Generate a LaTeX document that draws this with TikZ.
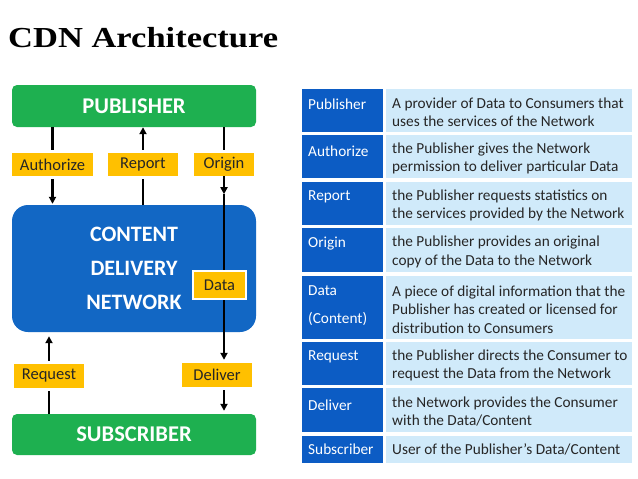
\documentclass[tikz,border=0pt]{standalone}
\usepackage{fontspec}
\setmainfont{Carlito}
\newfontfamily\titlefont{Liberation Serif}
\usetikzlibrary{arrows.meta}
\definecolor{pubgreen}{RGB}{30,176,80}
\definecolor{cdnblue}{RGB}{18,103,196}
\definecolor{labyellow}{RGB}{255,192,0}
\definecolor{tabdark}{RGB}{12,92,196}
\definecolor{tablight}{RGB}{208,234,250}
\begin{document}
\begin{tikzpicture}[x=1pt,y=-1pt,
  bigbox/.style={rounded corners=5pt, minimum width=244pt, text=white, inner sep=0pt,
    font=\bfseries\fontsize{22.5}{26}\selectfont},
  lab/.style={fill=labyellow, minimum height=23pt, inner sep=0pt, text=black!85,
    font=\fontsize{16.5}{18}\selectfont},
  flow/.style={line width=2.2pt, black},
  flowarrow/.style={flow, -{Triangle[length=7pt,width=7pt]}},
  lcell/.style={fill=tabdark, minimum width=81pt, inner sep=0pt, anchor=north west},
  rcell/.style={fill=tablight, minimum width=246pt, inner sep=0pt, anchor=north west},
  ltxt/.style={anchor=west, inner sep=0pt, text=white, font=\fontsize{15.3}{18}\selectfont},
  rtxt/.style={anchor=west, inner sep=0pt, align=left, text=black!85, font=\fontsize{15.3}{18.5}\selectfont}
]
\useasboundingbox (0,0) rectangle (638,479);
\fill[white] (0,0) rectangle (638,479);

% title
\node[anchor=base west, inner sep=0pt, font=\titlefont\bfseries\fontsize{29}{30}\selectfont] (title) at (8,47) {\scalebox{1.19}[1]{CDN Architecture}};

% diagram boxes
\node[bigbox, fill=pubgreen, minimum height=42pt] (pub) at (134,106) {PUBLISHER};
\node[bigbox, fill=cdnblue, rounded corners=16pt, minimum height=127pt, align=center,
  font=\bfseries\fontsize{22}{34}\selectfont] (cdn) at (134,268.5) {CONTENT\\DELIVERY\\NETWORK};
\node[bigbox, fill=pubgreen, minimum height=41pt] (sub) at (134,434.5) {SUBSCRIBER};

% labels
\node[lab, minimum width=81pt] (auth) at (52.5,164.5) {Authorize};
\node[lab, minimum width=70pt] (rep) at (143,164.5) {Report};
\node[lab, minimum width=60pt] (orig) at (224,164.5) {Origin};
\node[lab, minimum width=70pt, minimum height=24pt] (req) at (49,376) {Request};
\node[lab, minimum width=70pt, minimum height=24pt] (del) at (217,375) {Deliver};

% connectors
\draw[flow] (pub.south -| auth.north) -- ([yshift=3pt]auth.north);
\draw[flowarrow, shorten >=1pt] ([yshift=-3pt]auth.south) -- (cdn.north -| auth.south);
\draw[flowarrow] ([yshift=3pt]rep.north) -- (pub.south -| rep.north);
\draw[flow] (cdn.north -| rep.south) -- ([yshift=-3pt]rep.south);
\draw[flow] (pub.south -| orig.north) -- ([yshift=3pt]orig.north);
\draw[flowarrow] (orig.south) -- ++(0,18) coordinate (o1);
\coordinate (dtop) at (del.north -| orig.south);
\coordinate (dbot) at (del.south -| orig.south);
\draw[flowarrow] (o1) -- ([yshift=3pt]dtop);
\draw[flowarrow, shorten >=4pt] ([yshift=3pt]req.north) -- (cdn.south -| req.north);
\draw[flow] ([yshift=-3pt]req.south) -- (sub.north -| req.south);
\draw[flowarrow, shorten >=3pt] ([yshift=-3pt]dbot) -- (sub.north -| dbot);

\node[lab, draw=white, line width=1.5pt, minimum width=53pt, minimum height=28pt] (data) at (219.5,285) {Data};

% table
\node[lcell, minimum height=43pt] (l1) at (302,89) {};
\node[rcell, minimum height=43pt] (r1) at (386,89) {};
\node[lcell, minimum height=43pt] (l2) at (302,135) {};
\node[rcell, minimum height=43pt] (r2) at (386,135) {};
\node[lcell, minimum height=43pt] (l3) at (302,182) {};
\node[rcell, minimum height=43pt] (r3) at (386,182) {};
\node[lcell, minimum height=44pt] (l4) at (302,228) {};
\node[rcell, minimum height=44pt] (r4) at (386,228) {};
\node[lcell, minimum height=63pt] (l5) at (302,276) {};
\node[rcell, minimum height=63pt] (r5) at (386,276) {};
\node[lcell, minimum height=43pt] (l6) at (302,342) {};
\node[rcell, minimum height=43pt] (r6) at (386,342) {};
\node[lcell, minimum height=44pt] (l7) at (302,388) {};
\node[rcell, minimum height=44pt] (r7) at (386,388) {};
\node[lcell, minimum height=27pt] (l8) at (302,436) {};
\node[rcell, minimum height=27pt] (r8) at (386,436) {};

\node[ltxt] (t1) at ([xshift=6pt,yshift=-15pt]l1.north west) {Publisher};
\node[ltxt] (t2) at ([xshift=6pt,yshift=-16pt]l2.north west) {Authorize};
\node[ltxt] (t3) at ([xshift=6pt,yshift=-15pt]l3.north west) {Report};
\node[ltxt] (t4) at ([xshift=6pt,yshift=-16pt]l4.north west) {Origin};
\node[ltxt, align=left, font=\fontsize{15.3}{28}\selectfont] (t5) at ([xshift=6pt,yshift=-30pt]l5.north west) {Data\\(Content)};
\node[ltxt] (t6) at ([xshift=6pt,yshift=-15pt]l6.north west) {Request};
\node[ltxt] (t7) at ([xshift=6pt,yshift=-17pt]l7.north west) {Deliver};
\node[ltxt] (t8) at ([xshift=6pt]l8.west) {Subscriber};

\node[rtxt] (d1) at ([xshift=6pt,yshift=-1.5pt]r1.west) {A provider of Data to Consumers that\\uses the services of the Network};
\node[rtxt] (d2) at ([xshift=6pt,yshift=-1.5pt]r2.west) {the Publisher gives the Network\\permission to deliver particular Data};
\node[rtxt] (d3) at ([xshift=6pt,yshift=-1.5pt]r3.west) {the Publisher requests statistics on\\the services provided by the Network};
\node[rtxt] (d4) at ([xshift=6pt,yshift=-1.5pt]r4.west) {the Publisher provides an original\\copy of the Data to the Network};
\node[rtxt] (d5) at ([xshift=6pt,yshift=-2pt]r5.west) {A piece of digital information that the\\Publisher has created or licensed for\\distribution to Consumers};
\node[rtxt] (d6) at ([xshift=6pt,yshift=-1.5pt]r6.west) {the Publisher directs the Consumer to\\request the Data from the Network};
\node[rtxt] (d7) at ([xshift=6pt,yshift=-1.5pt]r7.west) {the Network provides the Consumer\\with the Data/Content};
\node[rtxt] (d8) at ([xshift=6pt]r8.west) {User of the Publisher’s Data/Content};
\end{tikzpicture}
\end{document}
